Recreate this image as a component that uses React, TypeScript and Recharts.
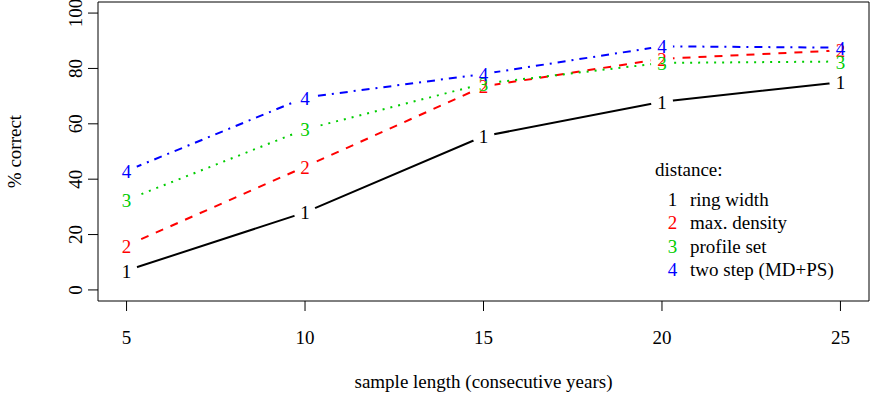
import React from 'react';
import { LineChart, Line, XAxis, YAxis, ReferenceArea, Legend, Label } from 'recharts';

const sampleLength = [5, 10, 15, 20, 25];
const ringWidth = [7, 28, 55.5, 68, 75];
const maxDensity = [16, 44.5, 73.5, 83.5, 86.5];
const profileSet = [32.5, 58, 74.5, 82, 82.5];
const twoStep = [43, 69.5, 78, 88, 87.5];
const xTicks = [5, 10, 15, 20, 25];
const yTicks = [0, 20, 40, 60, 80, 100];

const series = [
  { key: 'ringWidth', name: 'ring width', mark: '1', color: '#000000', dash: undefined as string | undefined },
  { key: 'maxDensity', name: 'max. density', mark: '2', color: '#FF0000', dash: '8 8' },
  { key: 'profileSet', name: 'profile set', mark: '3', color: '#00CD00', dash: '2 6' },
  { key: 'twoStep', name: 'two step (MD+PS)', mark: '4', color: '#0000FF', dash: '2 6 8 6' },
];

const data = sampleLength.map((x, i) => ({
  x,
  ringWidth: ringWidth[i],
  maxDensity: maxDensity[i],
  profileSet: profileSet[i],
  twoStep: twoStep[i],
}));

const FONT = '"Liberation Serif", "DejaVu Serif", serif';

const XTick = ({ x, y, payload }: any) => (
  <text x={x} y={y + 31} textAnchor="middle" fontFamily={FONT} fontSize={19} fill="#000">
    {payload.value}
  </text>
);

const YTick = ({ x, y, payload }: any) => (
  <text
    x={x - 4}
    y={y}
    transform={`rotate(-90, ${x - 4}, ${y})`}
    textAnchor="middle"
    fontFamily={FONT}
    fontSize={19}
    fill="#000"
  >
    {payload.value}
  </text>
);

// white disc under each point mark, so the line breaks around the number like R's type="b"
const maskDot = (props: any) => (
  <circle key={`m-${props.index}`} cx={props.cx} cy={props.cy} r={11} fill="#fff" stroke="none" />
);

const markDot = (mark: string, color: string) => (props: any) => (
  <text
    key={`t-${props.index}`}
    x={props.cx}
    y={props.cy}
    dy={7}
    textAnchor="middle"
    fontFamily={FONT}
    fontSize={19}
    fill={color}
  >
    {mark}
  </text>
);

const renderLegend = () => (
  <div style={{ fontFamily: FONT, fontSize: 19, lineHeight: '23.5px', color: '#000' }}>
    <div style={{ marginBottom: 6 }}>distance:</div>
    {series.map(s => (
      <div key={s.key} style={{ display: 'flex' }}>
        <span style={{ color: s.color, width: 35, textAlign: 'center', display: 'inline-block' }}>{s.mark}</span>
        <span>{s.name}</span>
      </div>
    ))}
  </div>
);

export default function App() {
  return (
    <div style={{ position: 'absolute', left: 0, top: 0, background: '#fff' }}>
      <LineChart width={870} height={402} data={data} margin={{ top: 2, right: 1, left: 0, bottom: 0 }}>
        <XAxis
          dataKey="x"
          type="number"
          domain={[4.2, 25.8]}
          ticks={xTicks}
          allowDataOverflow
          axisLine={false}
          tickLine={{ stroke: '#000' }}
          tickSize={10}
          tick={<XTick />}
          height={101}
        >
          <Label
            value="sample length (consecutive years)"
            position="insideBottom"
            offset={14}
            style={{ fontFamily: FONT, fontSize: 19, fill: '#000' }}
          />
        </XAxis>
        <YAxis
          type="number"
          domain={[-4, 104]}
          ticks={yTicks}
          allowDataOverflow
          axisLine={false}
          tickLine={{ stroke: '#000' }}
          tickSize={10}
          tick={<YTick />}
          width={98}
        >
          <Label
            value="% correct"
            angle={-90}
            position="insideLeft"
            offset={14}
            style={{ fontFamily: FONT, fontSize: 19, fill: '#000', textAnchor: 'middle' }}
          />
        </YAxis>
        <ReferenceArea x1={4.2} x2={25.8} y1={-4} y2={104} fill="none" stroke="#000" strokeWidth={1} ifOverflow="visible" />
        {series.map(s => (
          <Line
            key={s.key}
            type="linear"
            dataKey={s.key}
            stroke={s.color}
            strokeWidth={2}
            strokeDasharray={s.dash}
            dot={maskDot}
            activeDot={false}
            isAnimationActive={false}
          />
        ))}
        {series.map(s => (
          <Line
            key={`${s.key}-mark`}
            type="linear"
            dataKey={s.key}
            stroke="none"
            dot={markDot(s.mark, s.color)}
            activeDot={false}
            legendType="none"
            isAnimationActive={false}
          />
        ))}
        <Legend
          layout="vertical"
          align="center"
          verticalAlign="middle"
          content={renderLegend}
          wrapperStyle={{ left: 655, top: 158, width: 'auto' }}
        />
      </LineChart>
    </div>
  );
}
